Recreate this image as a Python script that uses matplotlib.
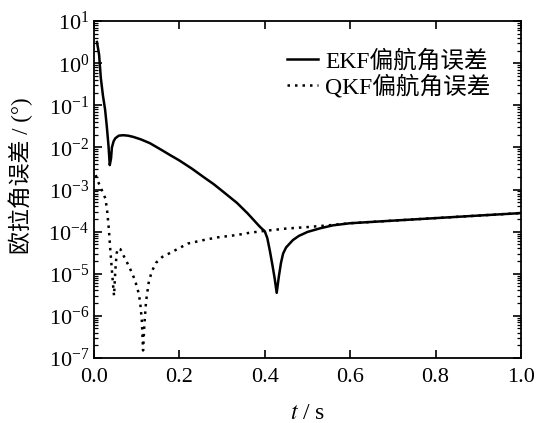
import numpy as np
import matplotlib
matplotlib.use('Agg')
import matplotlib.pyplot as plt
from matplotlib.ticker import LogLocator, MultipleLocator, NullFormatter

plt.rcParams['font.family'] = ['Liberation Serif', 'Noto Sans CJK SC']
plt.rcParams['mathtext.fontset'] = 'stix'

# EKF 偏航角误差
t_ekf = [0.007, 0.012, 0.016, 0.021, 0.026, 0.030, 0.034, 0.037, 0.040, 0.042,
         0.046, 0.050, 0.058, 0.068, 0.080, 0.092, 0.110, 0.131, 0.160, 0.178,
         0.200, 0.230, 0.256, 0.280, 0.300, 0.335, 0.360, 0.380, 0.390, 0.400,
         0.406, 0.412, 0.418, 0.423, 0.428, 0.433, 0.438, 0.443, 0.450, 0.466,
         0.480, 0.500, 0.530, 0.560, 0.600, 0.700, 0.800, 0.900, 1.000]
e_ekf = [3.2, 1.6, 0.45, 0.17, 0.08, 0.032, 0.011, 0.0038, 0.0055, 0.010,
         0.014, 0.0165, 0.019, 0.0195, 0.019, 0.0178, 0.0155, 0.0126, 0.0085, 0.0066,
         0.0049, 0.0031, 0.0020, 0.00135, 0.00093, 0.00048, 0.00027, 0.000162, 0.000126, 0.000102,
         7e-5, 3.5e-5, 1.6e-5, 8e-6, 3.5e-6, 8.5e-6, 1.8e-5, 3e-5, 4.2e-5, 6.3e-5,
         7.9e-5, 9.8e-5, 0.000120, 0.000141, 0.000158, 0.000182, 0.000209, 0.000240, 0.000275]

# QKF 偏航角误差
t_qkf = [0.004, 0.010, 0.016, 0.022, 0.027, 0.031, 0.035, 0.038, 0.042, 0.045,
         0.047, 0.050, 0.053, 0.056, 0.062, 0.070, 0.078, 0.088, 0.096, 0.103,
         0.108, 0.112, 0.115, 0.118, 0.122, 0.128, 0.135, 0.145, 0.160, 0.178,
         0.220, 0.260, 0.290, 0.335, 0.365, 0.400, 0.450, 0.500, 0.550, 0.600,
         0.700, 0.800, 0.900, 1.000]
e_qkf = [0.0022, 0.0015, 0.0011, 0.0008, 0.0006, 0.0003, 0.00011, 4e-5, 1.2e-5, 5e-6,
         3e-6, 1.2e-5, 3e-5, 4e-5, 3.8e-5, 2.6e-5, 1.8e-5, 1.1e-5, 7e-6, 4e-6,
         2.2e-6, 8e-7, 1.5e-7, 6e-7, 2.2e-6, 6e-6, 1.1e-5, 1.8e-5, 2.5e-5, 3.1e-5,
         5.2e-5, 6.4e-5, 7.3e-5, 8.3e-5, 9.4e-5, 0.000104, 0.000118, 0.000128, 0.000141, 0.000158,
         0.000182, 0.000209, 0.000240, 0.000275]

fig = plt.figure(figsize=(5.37, 4.23), dpi=100)
ax = fig.add_axes([0.175, 0.154, 0.795, 0.796])

ax.plot(t_ekf, e_ekf, color='black', lw=1.8, label='EKF偏航角误差')
ax.plot(t_qkf, e_qkf, color='black', lw=1.8, linestyle=(0, (1, 2)), label='QKF偏航角误差')

ax.set_yscale('log')
ax.set_xlim(0, 1.0)
ax.set_ylim(1e-7, 1e1)
ax.xaxis.set_major_locator(MultipleLocator(0.2))
ax.xaxis.set_major_formatter(plt.FuncFormatter(lambda v, p: '%.1f' % v))
ax.yaxis.set_major_locator(LogLocator(base=10, numticks=20))
ax.yaxis.set_minor_locator(LogLocator(base=10, subs=np.arange(2, 10), numticks=20))
ax.yaxis.set_minor_formatter(NullFormatter())

ax.tick_params(which='both', direction='in', top=True, right=True, labelsize=16)
ax.tick_params(which='major', length=6, width=1.2)
ax.tick_params(which='minor', length=3, width=0.9)
ax.tick_params(axis='x', pad=7)
for s in ax.spines.values():
    s.set_linewidth(1.3)

ax.set_xlabel('$t$ / s', fontsize=17, labelpad=12)
ax.set_ylabel('欧拉角误差 / (°)', fontsize=16.5)
ax.yaxis.set_label_coords(-0.142, 0.54)

ax.legend(loc='upper right', bbox_to_anchor=(0.978, 0.979), frameon=False, fontsize=17,
          handlelength=1.3, handletextpad=0.3, labelspacing=0.1)

fig.savefig('out.png', dpi=100)
